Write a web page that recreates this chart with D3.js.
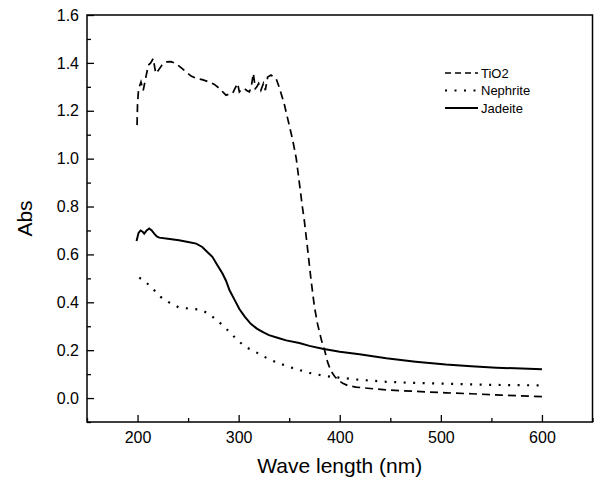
<!DOCTYPE html>
<html>
<head>
<meta charset="utf-8">
<title>Abs vs wave length</title>
<script src="https://cdn.jsdelivr.net/npm/d3@7"></script>
<style>
  body { margin: 0; background: #fff; }
  text { font-family: Arial, "Liberation Sans", sans-serif; fill: #000; }
  .axis path.domain { display: none; }
  .axis line { stroke: #000; stroke-width: 1.3px; }
  .axis text { font-size: 16px; }
</style>
</head>
<body>
<svg id="chart"></svg>
<script>
// spectra
var tio2X = [199.5, 200, 201, 203.4, 205.6, 208, 210.6, 213, 215.5, 218, 220.8, 224, 228, 233, 238, 243, 248, 253, 258, 264, 271, 276, 281, 287.5, 291, 294, 296, 299, 300.7, 303, 305.6, 308, 310.6, 312.5, 314.5, 316.5, 318, 319.8, 322, 324.5, 326.4, 328.7, 332, 335, 337, 340, 342, 345, 350, 353.5, 357, 360, 363, 365, 368, 371.7, 375, 378, 382, 385, 388, 391, 395, 399, 403, 408, 416, 430, 450, 475, 505, 530, 560, 600];
var tio2Y = [1.14, 1.23, 1.29, 1.32, 1.285, 1.335, 1.39, 1.40, 1.418, 1.356, 1.37, 1.39, 1.404, 1.405, 1.397, 1.38, 1.362, 1.345, 1.335, 1.33, 1.32, 1.31, 1.293, 1.265, 1.27, 1.272, 1.29, 1.314, 1.279, 1.29, 1.293, 1.285, 1.279, 1.30, 1.356, 1.293, 1.30, 1.314, 1.286, 1.314, 1.286, 1.341, 1.349, 1.34, 1.335, 1.30, 1.272, 1.23, 1.14, 1.077, 1.0, 0.90, 0.80, 0.74, 0.63, 0.49, 0.38, 0.31, 0.24, 0.20, 0.15, 0.115, 0.09, 0.073, 0.062, 0.052, 0.046, 0.040, 0.033, 0.028, 0.022, 0.018, 0.012, 0.006];

var nephX = [201.7, 208, 215, 223, 231, 241, 253, 260, 264, 269, 274, 282.6, 291, 299, 307, 317, 327, 337, 348.5, 358.4, 370, 381.6, 393, 403, 414.5, 446, 475, 505, 550, 600];
var nephY = [0.503, 0.485, 0.457, 0.422, 0.40, 0.378, 0.373, 0.37, 0.366, 0.355, 0.34, 0.31, 0.276, 0.241, 0.213, 0.192, 0.169, 0.15, 0.132, 0.119, 0.105, 0.095, 0.088, 0.084, 0.078, 0.068, 0.063, 0.06, 0.055, 0.053];

var jadX = [199, 201, 203, 205, 206.6, 209, 211.6, 214, 216.5, 219, 221.5, 230, 241, 250, 258, 264, 269, 274, 279, 284, 287.5, 291, 296, 300.7, 306, 312, 318, 323.6, 330, 340, 347, 360, 370, 383, 400, 419.5, 446, 475, 505, 530, 555, 580, 600];
var jadY = [0.656, 0.69, 0.70, 0.695, 0.687, 0.70, 0.708, 0.70, 0.687, 0.675, 0.67, 0.665, 0.659, 0.652, 0.645, 0.631, 0.61, 0.59, 0.555, 0.52, 0.49, 0.45, 0.41, 0.372, 0.34, 0.31, 0.29, 0.276, 0.263, 0.25, 0.241, 0.23, 0.218, 0.206, 0.193, 0.183, 0.166, 0.152, 0.14, 0.133, 0.127, 0.123, 0.12];

var seriesNames = ["TiO2", "Nephrite", "Jadeite"];
var xTicks = [200, 300, 400, 500, 600];
var xMinor = [150, 250, 350, 450, 550, 650];
var yTicks = [0.0, 0.2, 0.4, 0.6, 0.8, 1.0, 1.2, 1.4, 1.6];
var yMinor = [-0.1, 0.1, 0.3, 0.5, 0.7, 0.9, 1.1, 1.3, 1.5];

var margin = {top: 15, right: 1.5, bottom: 61, left: 87},
    W = 594, H = 483,
    width = W - margin.left - margin.right,
    height = H - margin.top - margin.bottom;

var svg = d3.select("#chart").attr("width", W).attr("height", H);
var g = svg.append("g").attr("transform", "translate(" + margin.left + "," + margin.top + ")");

var x = d3.scaleLinear().domain([150, 650]).range([0, width]);
var y = d3.scaleLinear().domain([-0.1, 1.6]).range([height, 0]);

// axes, ticks pointing inward
g.append("g").attr("class", "axis")
  .attr("transform", "translate(0," + height + ")")
  .call(d3.axisBottom(x).tickValues(xTicks).tickSize(-7).tickPadding(10).tickFormat(d3.format("d")));
g.append("g").attr("class", "axis")
  .attr("transform", "translate(0," + height + ")")
  .call(d3.axisBottom(x).tickValues(xMinor).tickSize(-4).tickFormat(""));
g.append("g").attr("class", "axis")
  .call(d3.axisLeft(y).tickValues(yTicks).tickSize(-7).tickPadding(8).tickFormat(d3.format(".1f")));
g.append("g").attr("class", "axis")
  .call(d3.axisLeft(y).tickValues(yMinor).tickSize(-4).tickFormat(""));

// frame
g.append("rect")
  .attr("width", width).attr("height", height)
  .attr("fill", "none").attr("stroke", "#000").attr("stroke-width", 1.5);

var line = d3.line().x(function(d) { return x(d[0]); }).y(function(d) { return y(d[1]); });

var series = [
  {name: seriesNames[0], xs: tio2X, ys: tio2Y, dash: "8,5", w: 1.7},
  {name: seriesNames[1], xs: nephX, ys: nephY, dash: "2,7.5", w: 2.2},
  {name: seriesNames[2], xs: jadX, ys: jadY, dash: null, w: 2}
];

series.forEach(function(s) {
  var pts = s.xs.map(function(v, i) { return [v, s.ys[i]]; });
  g.append("path")
    .datum(pts)
    .attr("d", line)
    .attr("fill", "none")
    .attr("stroke", "#000")
    .attr("stroke-width", s.w)
    .attr("stroke-dasharray", s.dash);
});

// legend
var legend = svg.append("g").attr("transform", "translate(445,73)");
series.forEach(function(s, i) {
  var row = legend.append("g").attr("transform", "translate(0," + (i * 17.5) + ")");
  row.append("line")
    .attr("x1", 0).attr("x2", 33).attr("y1", 0).attr("y2", 0)
    .attr("stroke", "#000").attr("stroke-width", s.w)
    .attr("stroke-dasharray", s.name === "TiO2" ? "6,4" : s.dash);
  row.append("text")
    .attr("x", 36).attr("y", 0).attr("dy", "0.35em")
    .style("font-size", "13px")
    .text(s.name);
});

// axis titles
svg.append("text")
  .attr("x", margin.left + x(400)).attr("y", 473)
  .attr("text-anchor", "middle")
  .style("font-size", "21px")
  .text("Wave length (nm)");

svg.append("text")
  .attr("transform", "translate(32," + (margin.top + y(0.75)) + ") rotate(-90)")
  .attr("text-anchor", "middle")
  .style("font-size", "21px")
  .text("Abs");
</script>
</body>
</html>
